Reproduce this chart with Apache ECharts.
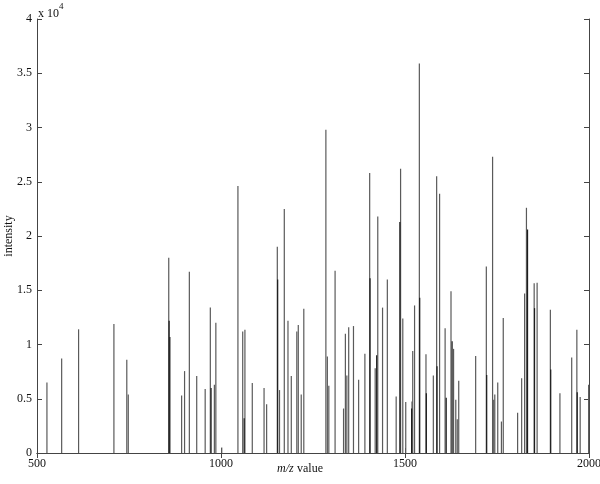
<!DOCTYPE html>
<html lang="en">
<head>
  <meta charset="utf-8"/>
  <title>m/z spectrum</title>
  <script src="https://cdn.jsdelivr.net/npm/echarts@6/dist/echarts.min.js"></script>
  <style>
    html, body { margin: 0; padding: 0; background: #fff; }
    #chart { width: 600px; height: 484px; }
  </style>
</head>
<body>
<div id="chart"></div>
<script>
  // peak positions (m/z) and intensities (x 10^4), grey stems
  var mzValues = [527, 567, 613, 709, 744, 748, 858, 893, 901, 914, 934, 957, 971, 982, 986, 1002,
    1046, 1059, 1065, 1085, 1117, 1124, 1153, 1159, 1172, 1182, 1191, 1206, 1210, 1218, 1225,
    1285, 1289, 1293, 1310, 1333, 1338, 1342, 1347, 1360, 1374, 1391, 1404, 1419, 1426, 1439,
    1452, 1476, 1488, 1494, 1502, 1519, 1521, 1526, 1539, 1557, 1577, 1586, 1594, 1609, 1625,
    1632, 1638, 1642, 1646, 1692, 1721, 1738, 1741, 1744, 1752, 1762, 1767, 1806, 1817, 1825,
    1830, 1851, 1859, 1895, 1921, 1953, 1967, 1976, 1999];
  var intensities = [0.65, 0.87, 1.14, 1.19, 0.86, 0.54, 1.80, 0.53, 0.755, 1.67, 0.71, 0.59, 1.34, 0.63, 1.20, 0.05,
    2.46, 1.12, 1.135, 0.645, 0.60, 0.45, 1.90, 0.58, 2.25, 1.22, 0.71, 1.12, 1.18, 0.54, 1.33,
    2.98, 0.89, 0.62, 1.68, 0.41, 1.10, 0.715, 1.16, 1.17, 0.675, 0.915, 2.58, 0.78, 2.18, 1.34,
    1.60, 0.52, 2.62, 1.24, 0.47, 0.475, 0.94, 1.36, 3.59, 0.91, 0.715, 2.55, 2.39, 1.15, 1.49,
    0.96, 0.49, 0.31, 0.665, 0.895, 1.72, 2.73, 0.49, 0.54, 0.65, 0.29, 1.245, 0.37, 0.69, 1.47,
    2.26, 1.565, 1.57, 1.32, 0.55, 0.88, 1.135, 0.515, 0.63];

  // darker stems drawn over the grey ones
  var darkMz = [859, 861, 973, 1063, 1154, 1405, 1423, 1486, 1518, 1540, 1558, 1587, 1612, 1628, 1722, 1833, 1852, 1896, 1968];
  var darkIntensities = [1.22, 1.07, 0.60, 0.32, 1.60, 1.61, 0.90, 2.13, 0.41, 1.43, 0.55, 0.80, 0.51, 1.03, 0.72, 2.06, 1.335, 0.77, 0.56];

  var xTicks = ['500', '1000', '1500', '2000'];
  var yTicks = ['0', '0.5', '1', '1.5', '2', '2.5', '3', '3.5', '4'];

  function pairs(xs, ys) {
    var out = [];
    for (var i = 0; i < xs.length; i++) out.push([xs[i], ys[i]]);
    return out;
  }

  function stems(color) {
    return function (params, api) {
      var p0 = api.coord([api.value(0), 0]);
      var p1 = api.coord([api.value(0), api.value(1)]);
      return {
        type: 'line',
        shape: {x1: p0[0], y1: p0[1], x2: p1[0], y2: p1[1]},
        style: {stroke: color, lineWidth: 1.2}
      };
    };
  }

  var font = 'Liberation Serif';
  var axisColor = '#444';

  var myChart = echarts.init(document.getElementById('chart'));
  var option = {
    animation: false,
    backgroundColor: '#fff',
    grid: {left: 37, right: 11, top: 19, bottom: 31, outerBoundsMode: 'none', containLabel: false},
    xAxis: [{
      type: 'value', min: 500, max: 2000, interval: 500, position: 'bottom',
      splitLine: {show: false},
      axisLine: {lineStyle: {color: axisColor, width: 1}},
      axisTick: {inside: true, length: 5, lineStyle: {color: axisColor}},
      axisLabel: {
        color: '#111', fontFamily: font, fontSize: 12, margin: 5,
        formatter: function (v) { return xTicks[Math.round((v - 500) / 500)]; }
      }
    }, {
      type: 'value', min: 500, max: 2000, interval: 500, position: 'top',
      splitLine: {show: false},
      axisLine: {show: true, lineStyle: {color: axisColor, width: 1}},
      axisTick: {inside: true, length: 5, lineStyle: {color: axisColor}},
      axisLabel: {show: false}
    }],
    yAxis: [{
      type: 'value', min: 0, max: 4, interval: 0.5, position: 'left',
      splitLine: {show: false},
      axisLine: {show: true, lineStyle: {color: axisColor, width: 1}},
      axisTick: {show: true, inside: true, length: 5, lineStyle: {color: axisColor}},
      axisLabel: {
        color: '#111', fontFamily: font, fontSize: 12, margin: 5,
        formatter: function (v) { return yTicks[Math.round(v / 0.5)]; }
      }
    }, {
      type: 'value', min: 0, max: 4, interval: 0.5, position: 'right',
      splitLine: {show: false},
      axisLine: {show: true, lineStyle: {color: axisColor, width: 1}},
      axisTick: {show: true, inside: true, length: 5, lineStyle: {color: axisColor}},
      axisLabel: {show: false}
    }],
    series: [{
      type: 'custom', xAxisIndex: 0, yAxisIndex: 0,
      renderItem: stems('#5a5a5a'),
      data: pairs(mzValues, intensities)
    }, {
      type: 'custom', xAxisIndex: 0, yAxisIndex: 0,
      renderItem: stems('#1c1c1c'),
      data: pairs(darkMz, darkIntensities)
    }],
    graphic: [{
      type: 'text', left: 38, top: 2,
      style: {
        text: '{a|x 10}{s|4}',
        rich: {
          a: {fontFamily: font, fontSize: 12, fill: '#111', padding: [6, 0, 0, 0]},
          s: {fontFamily: font, fontSize: 9, fill: '#111', verticalAlign: 'top'}
        }
      }
    }, {
      type: 'text', left: 'center', top: 463,
      style: {
        text: '{i|m/z} {n|value}',
        rich: {
          i: {fontFamily: font, fontSize: 12, fontStyle: 'italic', fill: '#111'},
          n: {fontFamily: font, fontSize: 12, fill: '#111'}
        }
      }
    }, {
      type: 'text', x: 9, y: 236, rotation: Math.PI / 2,
      style: {
        text: 'intensity', fontFamily: font, fontSize: 12, fill: '#111',
        align: 'center', verticalAlign: 'middle'
      }
    }]
  };
  myChart.setOption(option);
</script>
</body>
</html>
